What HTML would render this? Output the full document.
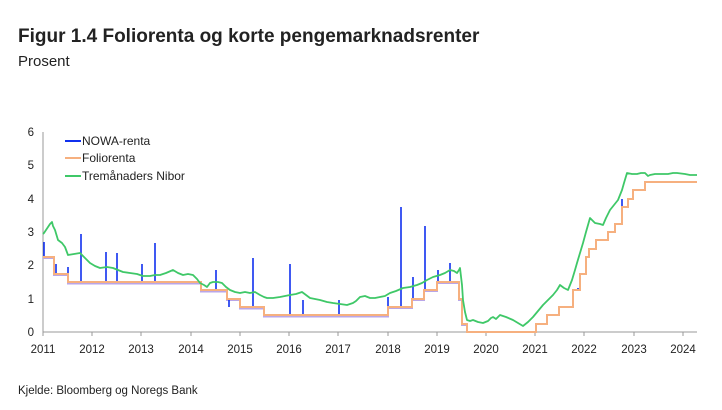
<!DOCTYPE html>
<html><head><meta charset="utf-8"><style>
body{margin:0;background:#fff;}
svg{display:block;font-family:"Liberation Sans",sans-serif;}
</style></head><body>
<svg width="722" height="410" viewBox="0 0 722 410">
<rect width="722" height="410" fill="#fff"/>
<text x="18" y="42" font-size="19" font-weight="bold" fill="#222">Figur 1.4 Foliorenta og korte pengemarknadsrenter</text>
<text x="18" y="66" font-size="15" fill="#222">Prosent</text>
<g font-size="11.5" fill="#222" text-anchor="end">
<text x="34" y="136">6</text><text x="34" y="169">5</text><text x="34" y="203">4</text>
<text x="34" y="236">3</text><text x="34" y="269">2</text><text x="34" y="303">1</text><text x="34" y="336">0</text>
</g>
<g font-size="11.5" fill="#222" text-anchor="middle">
<text x="43" y="353">2011</text><text x="92" y="353">2012</text><text x="141" y="353">2013</text>
<text x="191" y="353">2014</text><text x="240" y="353">2015</text><text x="289" y="353">2016</text>
<text x="338" y="353">2017</text><text x="388" y="353">2018</text><text x="437" y="353">2019</text>
<text x="486" y="353">2020</text><text x="535" y="353">2021</text><text x="584" y="353">2022</text>
<text x="634" y="353">2023</text><text x="683" y="353">2024</text>
</g>
<g stroke="#999" stroke-width="1">
<line x1="43" y1="132" x2="43" y2="332"/>
<line x1="43" y1="332" x2="697" y2="332"/>
<path d="M43,332v4M92,332v4M141,332v4M191,332v4M240,332v4M289,332v4M338,332v4M388,332v4M437,332v4M486,332v4M535,332v4M584,332v4M634,332v4M683,332v4"/>
</g>
<!-- lavender shadow -->
<path d="M43,258 H54 V275 H68 V283.5 H201 V291.5 H227 V300 H240 V308.5 H264 V316.5 H388 V308 H412 V300 H424 V291 H437 V283 H459 V300 H462 V325 H467 V332" fill="none" stroke="#b9a6e8" stroke-width="2"/>
<!-- NOWA spikes -->
<g stroke="#1030ee" stroke-width="1.6" fill="none">
<path d="M44,257V242M56,274V264M68,282V267M81,282V234M106,282V252M117,282V253M142,282V264M155,282V243M216,290V270M229,299V307M253,307V258M290,315V264M303,315V300M339,315V300M388,307V297M401,307V207M413,299V277M425,290V226M438,282V270M450,282V263M622,207V199M578,291V288"/>
</g>
<!-- Foliorenta -->
<path d="M43,257 H54 V274 H68 V282 H201 V290 H227 V299 H240 V307 H264 V315 H388 V307 H412 V299 H424 V290 H437 V282 H459 V299 H462 V324 H467 V332 H536 V324 H547 V315 H559 V307 H573 V290 H580 V274 H586 V257 H589 V249 H596 V240 H608 V232 H615 V224 H622 V207 H628 V199 H633 V190 H645 V182 H697" fill="none" stroke="#f6b07f" stroke-width="2"/>
<!-- Nibor -->
<polyline fill="none" stroke="#3fc868" stroke-width="1.8" stroke-linejoin="round" points="43,234 44,233 46,230 48,227 50,224 52,222 53,226 55,230 58,240 62,243 65,247 68,255 74,254 80,253 85,258 90,263 95,266 100,268 107,267 113,268 118,270 123,272 130,273 137,274 143,276 150,276 155,275 160,275 166,273 173,270 178,273 183,275 188,274 193,275 197,279 200,283 204,285 207,287 210,283 213,282 218,282 222,283 226,287 230,290 235,292 240,293 245,292 250,293 255,292 260,295 264,297 267,298 273,298 280,297 285,296 290,295 296,294 302,292 306,295 310,298 315,299 320,300 327,302 333,303 340,304 347,305 350,304 353,303 356,301 360,297 365,296 370,298 375,298 380,297 385,296 390,293 396,291 403,288 410,287 417,285 422,283 427,280 433,277 440,275 445,273 450,270 454,271 457,273 459,270 460,268 462,285 463,300 465,312 467,320 470,321 473,320 478,322 483,323 488,321 491,318 493,317 496,319 500,315 506,317 513,320 518,323 523,326 528,322 533,317 538,311 543,305 548,300 553,295 557,290 560,285 564,288 568,290 572,280 575,270 577,263 580,253 583,243 586,232 588,225 590,218 593,221 595,223 600,224 603,225 606,218 610,210 614,205 618,200 622,190 624,183 627,173 632,174 637,174 641,173 645,173 648,176 650,175 655,174 660,174 668,174 673,173 677,173 685,174 690,175 697,175"/>
<!-- Legend -->
<line x1="65" y1="141" x2="81" y2="141" stroke="#1030ee" stroke-width="2"/>
<line x1="65" y1="158" x2="81" y2="158" stroke="#f6b07f" stroke-width="2"/>
<line x1="65" y1="176" x2="81" y2="176" stroke="#3fc868" stroke-width="2"/>
<g font-size="12" fill="#222">
<text x="82" y="145">NOWA-renta</text>
<text x="82" y="162">Foliorenta</text>
<text x="82" y="180">Tremånaders Nibor</text>
</g>
<text x="18" y="394" font-size="11.5" fill="#222">Kjelde: Bloomberg og Noregs Bank</text>
</svg>
</body></html>
